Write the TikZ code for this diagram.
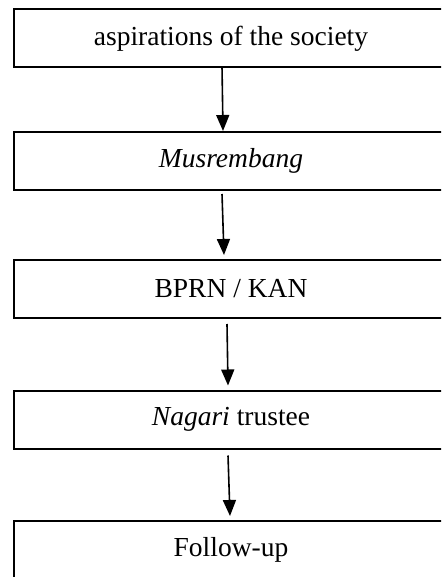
\documentclass[tikz,border=0pt]{standalone}
\usepackage{fontspec}
\setmainfont{Liberation Serif}
\usepackage{tikz}
\usetikzlibrary{arrows.meta,positioning}

\tikzset{
  stage/.style={draw, line width=2pt, minimum width=434pt, minimum height=58pt,
    inner sep=0pt, font=\fontsize{27.5}{32}\selectfont},
  flow/.style={line width=1.6pt, -{Triangle[length=16pt,width=13pt]}}
}

\begin{document}
\begin{tikzpicture}[align=center]
  \clip (0,0) rectangle (441pt,-577pt);
  \node[stage] (aspirasi) at (231pt,-38.5pt) {aspirations of the society};
  \node[stage] (musrenbang) at (231pt,-161pt) {\textit{Musrembang}};
  \node[stage] (bprn) at (231pt,-289pt) {BPRN / KAN};
  \node[stage] (wali) at (231pt,-419.5pt) {\textit{Nagari} trustee};
  \node[stage] (tindak) at (231pt,-550pt) {Follow-up};

  \draw[flow] ([xshift=-9pt,yshift=2pt]aspirasi.south) -- ([xshift=-8pt]musrenbang.north);
  \draw[flow] ([xshift=-9pt,yshift=-3pt]musrenbang.south) -- ([xshift=-7pt,yshift=4pt]bprn.north);
  \draw[flow] ([xshift=-4pt,yshift=-5pt]bprn.south) -- ([xshift=-3pt,yshift=4pt]wali.north);
  \draw[flow] ([xshift=-3pt,yshift=-6pt]wali.south) -- ([xshift=-1pt,yshift=4pt]tindak.north);
\end{tikzpicture}
\end{document}
